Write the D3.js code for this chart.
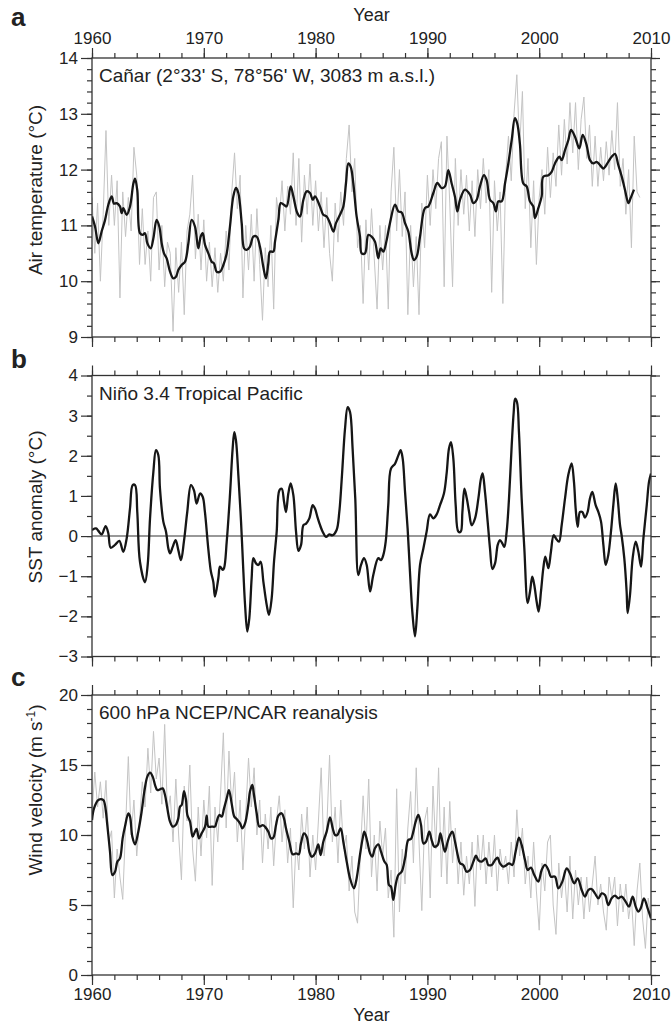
<!DOCTYPE html>
<html><head><meta charset="utf-8">
<script src="https://cdn.jsdelivr.net/npm/d3@7"></script>
<style>
body{margin:0;background:#fff}
text{font-family:"Liberation Sans",Arial,Helvetica,sans-serif;fill:#222}
</style>
</head><body>
<svg id="chart" width="672" height="1025"></svg>
<script>
// ---------------- DATA ----------------
const yearDomain = [1960, 2010];
const xMajorTicks = [1960, 1970, 1980, 1990, 2000, 2010];
const xMinorTicks = d3.range(1960, 2011, 2);

// Panel a: Cañar air temperature (°C)
const tempRawStart = 1960, tempRawStep = 0.25;
const tempRaw = [
11.5,10.5,11.4,10.0, 11.2,12.7,11.0,11.9, 11.0,11.8,9.7,11.6, 10.8,11.5,10.9,12.4,
11.9,10.3,11.3,10.3, 10.9,10.0,11.5,11.6, 10.2,11.0,9.9,10.7, 10.5,9.1,10.6,9.8,
10.7,9.4,10.9,11.2, 11.9,10.4,11.2,10.2, 11.1,10.0,10.7,9.9, 10.6,9.8,10.5,10.0,
10.9,10.2,11.6,12.3, 11.3,11.9,9.7,11.0, 10.2,11.2,10.0,11.3, 10.3,9.3,10.6,9.9,
11.0,9.5,11.5,11.1, 11.8,10.9,11.7,11.2, 12.3,11.0,12.2,10.7, 11.9,11.2,12.1,11.0,
11.8,10.9,11.6,10.6, 11.5,10.5,10.0,11.4, 10.7,11.6,11.0,12.2, 12.8,11.6,12.2,10.6,
11.0,9.6,11.1,10.2, 11.3,10.4,9.5,11.0, 10.2,11.0,9.5,11.6, 12.4,10.9,12.0,10.8,
11.6,9.4,11.0,9.9, 10.8,9.4,11.4,10.6, 11.9,11.0,12.0,11.3, 12.2,12.5,9.9,12.6,
11.4,9.9,12.2,11.0, 12.0,11.2,11.9,10.9, 11.8,10.8,12.0,11.3, 12.2,11.4,12.0,9.8,
11.8,10.9,11.6,9.6, 11.9,12.6,11.8,13.0, 13.7,12.4,13.4,11.3, 12.2,10.6,11.8,10.3,
11.5,12.0,11.2,12.4, 11.5,12.3,11.7,12.8, 11.9,12.9,12.1,13.2, 12.3,13.2,12.0,12.9,
13.3,12.2,12.8,11.7, 12.6,11.7,12.4,11.8, 12.5,11.9,12.7,12.0, 13.2,11.7,12.2,11.2,
12.0,10.6,12.6,11.6, 11.5
];
const tempSmooth = [
[1960.00,11.16],[1960.27,10.98],[1960.57,10.68],[1960.86,10.89],[1961.16,11.09],[1961.46,11.37],[1961.76,11.52],[1961.97,11.39],[1962.21,11.40],[1962.50,11.34],[1962.65,11.22],[1962.80,11.31],[1963.10,11.19],[1963.40,11.34],[1963.70,11.75],[1963.85,11.84],[1964.05,11.63],[1964.29,10.86],[1964.53,10.83],[1964.74,10.86],[1964.95,10.68],[1965.25,10.59],[1965.49,10.77],[1965.78,11.10],[1966.02,10.98],[1966.23,10.68],[1966.44,10.50],[1966.68,10.41],[1966.98,10.17],[1967.27,10.05],[1967.51,10.08],[1967.72,10.20],[1968.02,10.29],[1968.32,10.35],[1968.62,10.68],[1968.91,11.10],[1969.21,10.98],[1969.51,10.59],[1969.72,10.80],[1969.90,10.86],[1970.11,10.65],[1970.41,10.50],[1970.70,10.35],[1970.91,10.32],[1971.15,10.17],[1971.45,10.17],[1971.75,10.29],[1972.05,10.50],[1972.34,10.98],[1972.64,11.52],[1972.88,11.67],[1973.09,11.58],[1973.39,11.04],[1973.60,10.59],[1973.83,10.56],[1974.13,10.62],[1974.43,10.80],[1974.73,10.80],[1975.02,10.62],[1975.32,10.26],[1975.56,10.05],[1975.77,10.32],[1975.92,10.53],[1976.22,10.53],[1976.37,10.71],[1976.67,11.10],[1976.88,11.40],[1977.17,11.37],[1977.41,11.34],[1977.77,11.70],[1978.01,11.52],[1978.37,11.22],[1978.61,11.16],[1978.91,11.46],[1979.20,11.61],[1979.50,11.58],[1979.74,11.46],[1979.95,11.52],[1980.39,11.34],[1980.69,11.19],[1980.99,11.16],[1981.29,11.04],[1981.59,10.89],[1981.82,11.04],[1982.18,11.19],[1982.48,11.34],[1982.72,11.76],[1982.93,12.11],[1983.14,12.05],[1983.37,11.76],[1983.67,11.16],[1983.97,10.80],
[1984.12,10.50],[1984.42,10.50],[1984.72,10.83],[1985.01,10.80],[1985.31,10.71],[1985.61,10.41],[1985.82,10.59],[1986.06,10.53],[1986.36,10.74],[1986.65,11.04],[1987.10,11.37],[1987.40,11.25],[1987.70,11.23],[1988.00,11.04],[1988.29,10.89],[1988.59,10.50],[1988.80,10.38],[1989.04,10.44],[1989.34,10.80],[1989.78,11.31],[1990.08,11.34],[1990.53,11.58],[1990.89,11.76],[1991.27,11.67],[1991.57,11.70],[1991.87,11.99],[1992.17,11.75],[1992.47,11.51],[1992.68,11.25],[1992.92,11.46],[1993.36,11.64],[1993.81,11.55],[1994.11,11.40],[1994.41,11.46],[1994.70,11.70],[1995.06,11.90],[1995.30,11.81],[1995.60,11.46],[1995.90,11.40],[1996.13,11.25],[1996.34,11.43],[1996.64,11.43],[1996.94,11.75],[1997.24,12.11],[1997.54,12.53],[1997.83,12.92],[1998.03,12.83],[1998.27,12.47],[1998.58,11.75],[1998.88,11.70],[1999.17,11.43],[1999.47,11.34],[1999.62,11.13],[1999.92,11.31],[2000.22,11.52],[2000.36,11.87],[2000.82,11.90],[2001.11,11.96],[2001.41,12.11],[2001.80,12.23],[2002.01,12.17],[2002.31,12.35],[2002.61,12.53],[2002.85,12.71],[2003.20,12.59],[2003.59,12.38],[2003.89,12.62],[2004.24,12.44],[2004.54,12.17],[2004.84,12.11],[2005.14,12.14],[2005.44,12.08],[2005.74,12.02],[2006.18,12.14],[2006.48,12.23],[2006.78,12.28],[2007.08,12.08],[2007.39,11.87],[2007.68,11.63],[2007.98,11.40],[2008.18,11.49],[2008.48,11.64]
];

// Panel b: Niño 3.4 SST anomaly (°C)
const sstSmooth = [
[1960.00,0.15],[1960.36,0.19],[1960.57,0.13],[1960.86,0.04],[1961.22,0.25],[1961.46,0.07],[1961.67,-0.29],[1962.06,-0.22],[1962.44,-0.12],[1962.80,-0.39],[1963.10,-0.06],[1963.40,0.69],[1963.64,1.27],[1963.85,1.27],[1964.05,0.60],[1964.29,-0.64],[1964.74,-1.15],[1964.98,-0.72],[1965.19,0.44],[1965.49,1.60],[1965.72,2.14],[1965.93,2.02],[1966.08,1.18],[1966.38,0.36],[1966.62,0.11],[1966.83,-0.31],[1966.98,-0.43],[1967.22,-0.27],[1967.48,-0.10],[1967.72,-0.35],[1967.96,-0.60],[1968.22,-0.14],[1968.52,0.60],[1968.85,1.27],[1969.12,1.14],[1969.36,0.81],[1969.66,1.06],[1969.90,0.98],[1970.10,0.60],[1970.40,-0.31],[1970.64,-0.89],[1970.85,-1.14],[1971.00,-1.51],[1971.30,-1.05],[1971.45,-0.76],[1971.69,-0.84],[1971.81,-0.80],[1972.05,-0.14],[1972.34,1.02],[1972.58,2.18],[1972.73,2.59],[1972.88,2.38],[1973.09,1.52],[1973.33,0.36],[1973.54,-0.89],[1973.69,-1.71],[1973.89,-2.38],[1974.07,-2.05],[1974.28,-1.05],[1974.43,-0.55],[1974.67,-0.68],[1974.88,-0.72],[1975.09,-0.64],[1975.33,-1.14],[1975.63,-1.72],[1975.83,-1.96],[1976.07,-1.55],[1976.28,-0.64],[1976.52,0.11],[1976.76,1.14],[1976.97,1.18],[1977.18,0.85],[1977.35,0.60],[1977.56,1.06],[1977.77,1.31],[1978.01,1.02],[1978.25,0.11],[1978.46,-0.37],[1978.70,-0.22],[1978.91,0.27],[1979.15,0.31],[1979.44,0.44],[1979.74,0.77],[1979.95,0.68],[1980.16,0.48],[1980.40,0.27],[1980.63,0.11],[1980.93,-0.02],[1981.23,0.04],[1981.52,0.02],[1981.88,0.15],[1982.12,0.60],[1982.36,1.52],[1982.63,2.67],[1982.87,3.21],[1983.08,3.09],[1983.31,2.18],[1983.55,0.93],[1983.82,-0.97],[1984.06,-0.72],[1984.33,-0.55],[1984.57,-0.72],[1984.87,-1.38],
[1985.16,-0.97],[1985.61,-0.55],[1985.85,-0.60],[1986.06,-0.47],[1986.27,-0.14],[1986.50,0.77],[1986.74,1.68],[1987.10,1.80],[1987.40,2.01],[1987.61,2.14],[1987.79,1.93],[1988.00,1.10],[1988.23,0.19],[1988.44,-0.89],[1988.65,-1.88],[1988.89,-2.50],[1989.10,-1.80],[1989.34,-0.72],[1989.64,-0.31],[1989.93,0.11],[1990.23,0.54],[1990.53,0.44],[1990.83,0.54],[1991.13,0.77],[1991.48,1.06],[1991.72,1.56],[1991.93,2.18],[1992.11,2.34],[1992.32,1.93],[1992.53,0.77],[1992.77,0.11],[1992.98,0.11],[1993.13,0.60],[1993.31,1.18],[1993.52,0.94],[1993.73,0.60],[1993.96,0.27],[1994.26,0.44],[1994.56,0.94],[1994.79,1.43],[1994.94,1.56],[1995.15,1.10],[1995.39,0.36],[1995.60,-0.31],[1995.81,-0.82],[1996.05,-0.68],[1996.29,-0.22],[1996.49,-0.10],[1996.70,-0.18],[1996.88,-0.27],[1997.09,0.11],[1997.30,0.94],[1997.54,2.26],[1997.72,3.09],[1997.84,3.42],[1998.01,3.34],[1998.19,2.59],[1998.43,0.94],[1998.67,-0.31],[1998.97,-1.67],[1999.18,-1.38],[1999.38,-1.01],[1999.56,-1.22],[1999.77,-1.63],[1999.95,-1.88],[2000.16,-1.38],[2000.37,-0.80],[2000.55,-0.51],[2000.82,-0.80],[2001.05,-0.39],[2001.29,0.02],[2001.50,-0.06],[2001.77,-0.14],[2002.01,0.27],[2002.31,0.94],[2002.60,1.52],[2002.90,1.81],[2003.11,1.35],[2003.26,0.69],[2003.44,0.23],[2003.65,0.60],[2003.86,0.60],[2004.09,0.46],[2004.33,0.60],[2004.54,0.94],[2004.75,1.10],[2005.05,0.77],[2005.29,0.60],[2005.53,0.36],[2005.74,-0.22],[2005.95,-0.72],[2006.18,-0.47],[2006.42,0.11],[2006.63,0.77],[2006.84,1.31],[2007.02,0.94],[2007.23,0.27],[2007.37,0.02],[2007.61,-0.55],[2007.82,-1.38],[2007.91,-1.92],[2008.12,-1.47],[2008.36,-0.55],[2008.63,-0.14],[2008.87,-0.39],[2009.11,-0.76],[2009.32,-0.06],[2009.62,0.77],[2009.82,1.35],[2010.00,1.56]
];

// Panel c: 600 hPa wind velocity (m s-1)
const windRawStart = 1960, windRawStep = 0.25;
const windRaw = [
11.5,14.5,12.0,13.8, 11.2,13.9,9.5,10.3, 5.5,9.0,7.0,5.4, 10.5,15.6,10.0,12.5,
8.5,11.0,13.8,12.0, 16.2,13.0,17.4,14.0, 15.5,12.2,17.9,11.5, 12.8,9.5,14.0,10.0,
6.8,13.5,11.0,15.0, 9.0,6.7,12.0,8.5, 12.5,9.8,13.5,6.4, 12.0,9.5,13.0,17.3,
10.5,16.0,12.0,14.5, 9.5,12.5,7.5,11.5, 15.5,12.0,14.8,10.0, 12.5,8.0,11.5,9.0,
12.0,7.8,11.0,12.8, 9.5,11.8,8.0,10.5, 4.8,9.5,7.5,11.5, 9.0,12.0,7.0,10.0,
7.5,11.0,14.8,8.5, 10.5,15.7,9.5,12.0, 8.0,12.5,9.0,10.0, 6.0,8.5,4.5,3.7,
8.5,12.8,9.0,14.0, 7.0,10.0,6.0,11.0, 8.5,10.5,5.5,7.5, 2.7,13.3,4.5,9.0,
6.5,10.5,13.1,8.0, 14.8,9.5,4.6,11.0, 12.0,5.5,13.5,9.0, 14.8,7.0,12.0,6.5,
12.4,8.0,10.5,6.5, 9.5,5.7,8.5,6.5, 9.5,4.9,10.0,7.5, 10.0,6.5,9.5,7.0,
10.0,6.0,9.0,7.5, 8.5,6.5,9.5,7.0, 11.8,8.5,10.5,6.5, 8.5,5.5,9.5,6.0,
3.2,8.0,6.0,9.5, 10.0,5.0,2.9,8.0, 5.5,7.5,4.5,8.5, 4.0,7.5,5.0,7.0,
4.0,7.0,4.5,6.5, 8.5,5.0,6.5,4.5, 3.2,7.0,5.5,7.0, 3.5,6.5,4.5,6.5,
4.0,5.5,2.1,6.0, 8.0,4.0,1.9,5.5, 4.0
];
const windSmooth = [
[1960.00,11.07],[1960.18,11.90],[1960.57,12.50],[1961.01,12.50],[1961.16,12.14],[1961.37,10.71],[1961.61,8.81],[1961.82,7.14],[1962.06,7.38],[1962.27,8.10],[1962.50,8.33],[1962.74,9.76],[1962.95,10.60],[1963.25,11.55],[1963.40,11.31],[1963.61,9.88],[1963.85,9.33],[1964.14,10.24],[1964.44,11.67],[1964.68,13.10],[1964.95,14.17],[1965.19,14.45],[1965.43,14.17],[1965.64,13.57],[1965.84,13.21],[1966.08,13.26],[1966.32,13.33],[1966.53,12.86],[1966.74,11.90],[1966.98,10.95],[1967.22,10.60],[1967.48,10.71],[1967.72,11.19],[1967.87,12.02],[1968.02,12.14],[1968.23,13.14],[1968.41,12.50],[1968.53,11.43],[1968.77,10.95],[1969.00,9.88],[1969.21,10.24],[1969.36,10.43],[1969.57,9.76],[1969.81,10.12],[1970.11,10.60],[1970.26,11.38],[1970.41,10.60],[1970.70,10.60],[1971.00,10.60],[1971.15,10.95],[1971.39,11.43],[1971.60,11.31],[1971.81,11.90],[1972.05,12.62],[1972.25,13.21],[1972.49,12.26],[1972.73,11.31],[1972.94,11.14],[1973.24,10.83],[1973.45,10.48],[1973.69,10.83],[1973.98,12.14],[1974.13,13.10],[1974.34,13.57],[1974.49,12.86],[1974.73,11.55],[1974.97,10.60],[1975.27,10.71],[1975.47,10.60],[1975.77,10.24],[1976.01,9.76],[1976.22,9.81],[1976.46,10.71],[1976.67,11.38],[1976.96,11.55],[1977.17,11.19],[1977.35,10.48],[1977.65,9.52],[1977.95,8.62],[1978.25,8.69],[1978.49,8.62],[1978.69,9.40],[1978.96,10.12],[1979.20,9.88],[1979.44,8.81],[1979.65,8.45],[1979.95,8.69],[1980.24,9.33],[1980.45,8.57],[1980.69,9.52],[1980.99,10.24],[1981.29,11.26],[1981.53,10.48],[1981.74,10.00],[1981.94,10.00],[1982.24,10.48],[1982.48,9.52],[1982.78,8.10],[1983.08,6.90],[1983.43,6.19],[1983.67,6.90],[1983.97,8.57],[1984.21,9.76],[1984.36,10.24],[1984.63,9.52],[1984.87,8.69],
[1985.07,8.45],[1985.31,9.05],[1985.61,9.33],[1985.85,8.81],[1986.15,8.10],[1986.36,7.86],[1986.56,6.43],[1986.74,6.31],[1986.95,5.36],[1987.16,6.43],[1987.40,7.14],[1987.70,7.38],[1988.00,8.33],[1988.29,9.64],[1988.53,9.71],[1988.74,10.24],[1988.95,10.95],[1989.19,11.43],[1989.43,10.71],[1989.64,9.40],[1989.87,9.52],[1990.17,10.24],[1990.38,9.64],[1990.62,9.17],[1990.92,9.29],[1991.16,10.12],[1991.34,9.52],[1991.57,8.81],[1991.81,9.52],[1992.02,10.00],[1992.23,10.24],[1992.47,9.52],[1992.71,8.57],[1992.92,7.98],[1993.21,7.86],[1993.51,7.38],[1993.81,7.50],[1994.11,8.10],[1994.35,8.52],[1994.55,8.21],[1994.85,8.10],[1995.21,8.33],[1995.45,7.86],[1995.75,7.86],[1996.05,8.21],[1996.28,8.38],[1996.49,7.98],[1996.79,7.74],[1997.09,7.86],[1997.30,7.98],[1997.60,7.86],[1997.89,8.81],[1998.19,9.81],[1998.43,9.29],[1998.73,8.21],[1998.97,7.50],[1999.26,7.67],[1999.56,7.14],[1999.92,6.67],[2000.22,7.50],[2000.52,7.86],[2000.82,7.50],[2001.05,7.02],[2001.41,7.02],[2001.71,6.19],[2002.07,6.67],[2002.46,7.62],[2002.75,7.26],[2003.14,6.55],[2003.44,6.90],[2003.80,6.07],[2004.09,5.60],[2004.39,6.07],[2004.69,6.14],[2004.99,5.83],[2005.29,5.48],[2005.59,5.83],[2005.88,5.71],[2006.18,5.00],[2006.48,5.48],[2006.78,5.67],[2007.08,5.48],[2007.37,5.60],[2007.73,5.24],[2008.03,4.88],[2008.36,5.60],[2008.63,4.88],[2008.87,4.52],[2009.08,4.76],[2009.37,5.48],[2009.70,4.76],[2010.00,4.05]
];

// ---------------- DRAWING ----------------
const svg = d3.select("#chart");
const X0 = 92, X1 = 651;
const x = d3.scaleLinear().domain(yearDomain).range([X0, X1]);
const AX = "#333";

const panels = [
  {letter:"a", domain:[9,14], range:[337,58], majors:d3.range(9,14.001,1), minors:d3.range(9,14.001,0.2),
   title:"Cañar (2°33' S, 78°56' W, 3083 m a.s.l.)", titleY:82, ylab:"Air temperature (°C)", ylabY:190, letterY:26},
  {letter:"b", domain:[-3,4], range:[656.5,375.5], majors:d3.range(-3,4.001,1), minors:d3.range(-3,4.001,0.5),
   title:"Niño 3.4 Tropical Pacific", titleY:400, ylab:"SST anomaly (°C)", ylabY:507, letterY:368},
  {letter:"c", domain:[0,20], range:[975,695], majors:d3.range(0,20.001,5), minors:d3.range(0,20.001,1),
   title:"600 hPa NCEP/NCAR reanalysis", titleY:719, ylab:"Wind velocity (m s", ylabY:790, letterY:686}
];
panels.forEach(p => p.y = d3.scaleLinear().domain(p.domain).range(p.range));

function styleAxis(g){
  g.select(".domain").remove();
  g.selectAll(".tick line").attr("stroke", AX).attr("stroke-width", 1.2);
  g.selectAll(".tick text").attr("fill","#222").style("font-size","17px")
    .style("font-family",'"Liberation Sans",Arial,sans-serif');
}

const fmt = d3.format("d");

panels.forEach((p, i) => {
  const g = svg.append("g");
  const yT = p.range[1], yB = p.range[0];
  // Y axes left
  g.append("g").attr("transform",`translate(${X0},0)`)
    .call(d3.axisLeft(p.y).tickValues(p.minors).tickSize(5).tickFormat("")).call(styleAxis);
  g.append("g").attr("transform",`translate(${X0},0)`)
    .call(d3.axisLeft(p.y).tickValues(p.majors).tickSize(11).tickPadding(3).tickFormat(fmt)).call(styleAxis);
  // Y axes right
  g.append("g").attr("transform",`translate(${X1},0)`)
    .call(d3.axisRight(p.y).tickValues(p.minors).tickSize(5).tickFormat("")).call(styleAxis);
  g.append("g").attr("transform",`translate(${X1},0)`)
    .call(d3.axisRight(p.y).tickValues(p.majors).tickSize(9).tickFormat("")).call(styleAxis);
  // X axes top
  g.append("g").attr("transform",`translate(0,${yT})`)
    .call(d3.axisTop(x).tickValues(xMinorTicks).tickSize(5).tickFormat("")).call(styleAxis);
  const topMaj = d3.axisTop(x).tickValues(xMajorTicks).tickSize(10).tickPadding(4);
  topMaj.tickFormat(i === 0 ? fmt : "");
  g.append("g").attr("transform",`translate(0,${yT})`).call(topMaj).call(styleAxis);
  // X axes bottom
  g.append("g").attr("transform",`translate(0,${yB})`)
    .call(d3.axisBottom(x).tickValues(xMinorTicks).tickSize(5).tickFormat("")).call(styleAxis);
  const botMaj = d3.axisBottom(x).tickValues(xMajorTicks).tickSize(10).tickPadding(3);
  botMaj.tickFormat(i === 2 ? fmt : "");
  g.append("g").attr("transform",`translate(0,${yB})`).call(botMaj).call(styleAxis);

  // clip
  svg.append("clipPath").attr("id","clip"+i).append("rect")
    .attr("x",X0).attr("y",yT).attr("width",X1-X0).attr("height",yB-yT);
  p.plot = svg.append("g").attr("clip-path",`url(#clip${i})`);

  // frame
  svg.append("rect").attr("x",X0).attr("y",yT).attr("width",X1-X0).attr("height",yB-yT)
    .attr("fill","none").attr("stroke",AX).attr("stroke-width",1.3);

  // in-panel title
  svg.append("text").attr("x",99).attr("y",p.titleY).text(p.title)
    .style("font-size","19px").attr("fill","#222");

  // panel letter
  svg.append("text").attr("x",11).attr("y",p.letterY).text(p.letter)
    .style("font-size","26px").style("font-weight","bold").attr("fill","#111");

  // y label
  const yl = svg.append("text").attr("transform",`translate(42,${p.ylabY}) rotate(-90)`)
    .attr("text-anchor","middle").style("font-size","19px").attr("fill","#222").text(p.ylab);
  if (p.letter === "c") {
    yl.append("tspan").attr("dy",-7).style("font-size","12px").text("-1");
    yl.append("tspan").attr("dy",7).text(")");
  }
});

// Year titles
svg.append("text").attr("x",(X0+X1)/2).attr("y",21).attr("text-anchor","middle")
  .style("font-size","18px").attr("fill","#222").text("Year");
svg.append("text").attr("x",(X0+X1)/2).attr("y",1021).attr("text-anchor","middle")
  .style("font-size","18px").attr("fill","#222").text("Year");

// Panel a lines
const pa = panels[0], pb = panels[1], pc = panels[2];
const tempRawPts = tempRaw.map((v,k)=>[tempRawStart + k*tempRawStep, v]);
pa.plot.append("path").datum(tempRawPts)
  .attr("d", d3.line().x(d=>x(d[0])).y(d=>pa.y(d[1])))
  .attr("fill","none").attr("stroke","#c4c4c4").attr("stroke-width",1);
pa.plot.append("path").datum(tempSmooth)
  .attr("d", d3.line().x(d=>x(d[0])).y(d=>pa.y(d[1])).curve(d3.curveCatmullRom.alpha(0.5)))
  .attr("fill","none").attr("stroke","#161616").attr("stroke-width",2.3).attr("stroke-linejoin","round");

// Panel b
pb.plot.append("line").attr("x1",X0).attr("x2",X1).attr("y1",pb.y(0)).attr("y2",pb.y(0))
  .attr("stroke",AX).attr("stroke-width",1.1);
pb.plot.append("path").datum(sstSmooth)
  .attr("d", d3.line().x(d=>x(d[0])).y(d=>pb.y(d[1])).curve(d3.curveCatmullRom.alpha(0.5)))
  .attr("fill","none").attr("stroke","#161616").attr("stroke-width",2.3).attr("stroke-linejoin","round");

// Panel c
const windRawPts = windRaw.map((v,k)=>[windRawStart + k*windRawStep, v]);
pc.plot.append("path").datum(windRawPts)
  .attr("d", d3.line().x(d=>x(d[0])).y(d=>pc.y(d[1])))
  .attr("fill","none").attr("stroke","#c4c4c4").attr("stroke-width",1);
pc.plot.append("path").datum(windSmooth)
  .attr("d", d3.line().x(d=>x(d[0])).y(d=>pc.y(d[1])).curve(d3.curveCatmullRom.alpha(0.5)))
  .attr("fill","none").attr("stroke","#161616").attr("stroke-width",2.3).attr("stroke-linejoin","round");
</script>
</body></html>
